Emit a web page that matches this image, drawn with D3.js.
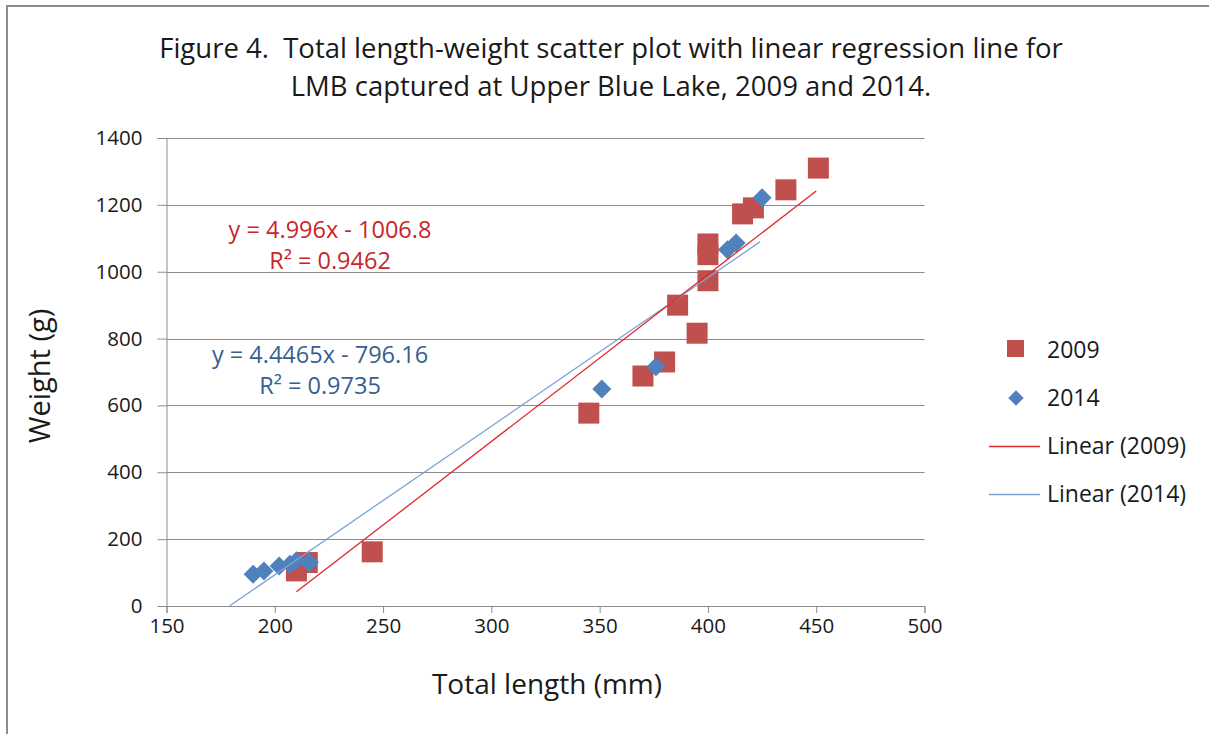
<!DOCTYPE html>
<html>
<head>
<meta charset="utf-8">
<script src="https://cdn.jsdelivr.net/npm/d3@7"></script>
<style>
  body { margin: 0; background: #fff; }
  svg text { font-family: "Open Sans", sans-serif; fill: #1a1a1a; }
</style>
</head>
<body>
<div id="container"></div>
<script>
// Data
const length2009 = [210, 215, 245, 345, 370, 380, 386, 395, 400, 400, 400, 416, 421, 436, 451];
const weight2009 = [105, 130, 162, 577, 688, 730, 900, 816, 973, 1051, 1083, 1173, 1191, 1245, 1310];
const length2014 = [190, 195, 202, 207, 210, 216, 351, 376, 409, 413, 425];
const weight2014 = [95, 105, 120, 125, 135, 130, 649, 716, 1066, 1086, 1221];

// Trendline coefficients and extents
const fit2009 = { slope: 4.996, intercept: -1006.8, from: 210, to: 450 };
const fit2014 = { slope: 4.4465, intercept: -796.16, from: 179.05, to: 424 };

const xTicks = [150, 200, 250, 300, 350, 400, 450, 500];
const yTicks = [0, 200, 400, 600, 800, 1000, 1200, 1400];

const W = 1209, H = 734;
const plot = { left: 166.5, right: 924.5, top: 138, bottom: 606 };

const x = d3.scaleLinear().domain([150, 500]).range([plot.left, plot.right]);
const y = d3.scaleLinear().domain([0, 1400]).range([plot.bottom, plot.top]);

const svg = d3.select("#container").append("svg")
    .attr("width", W)
    .attr("height", H);

// chart border (only top and left edges visible)
svg.append("path")
    .attr("d", `M7,${H} L7,6 L${W},6`)
    .attr("fill", "none")
    .attr("stroke", "#8c8c8c")
    .attr("stroke-width", 2);

// title
const title = svg.append("text")
    .attr("text-anchor", "middle")
    .attr("font-size", 27.5);
title.append("tspan").attr("x", 611).attr("y", 58)
    .text("Figure 4.\u00a0 Total length-weight scatter plot with linear regression line for");
title.append("tspan").attr("x", 611).attr("y", 96)
    .text("LMB captured at Upper Blue Lake, 2009 and 2014.");

// gridlines
svg.append("g")
    .selectAll("line")
    .data(yTicks.filter(d => d > 0))
    .join("line")
    .attr("x1", plot.left)
    .attr("x2", plot.right)
    .attr("y1", d => Math.round(y(d)) + 0.5)
    .attr("y2", d => Math.round(y(d)) + 0.5)
    .attr("stroke", "#8c8c8c");

// y axis
const yAxis = svg.append("g")
    .attr("transform", `translate(${plot.left},0)`)
    .call(d3.axisLeft(y).tickValues(yTicks).tickFormat(d3.format("d")).tickSize(9).tickPadding(15));
// x axis
const xAxis = svg.append("g")
    .attr("transform", `translate(0,${plot.bottom})`)
    .call(d3.axisBottom(x).tickValues(xTicks).tickFormat(d3.format("d")).tickSize(7).tickPadding(5));

[xAxis, yAxis].forEach(a => {
    a.selectAll("path.domain").attr("stroke", "#8c8c8c");
    a.selectAll(".tick line").attr("stroke", "#8c8c8c");
    a.selectAll(".tick text")
        .attr("font-family", "'Open Sans', sans-serif")
        .attr("font-size", 20.5)
        .attr("fill", "#1a1a1a");
});

// axis titles
svg.append("text")
    .attr("transform", `translate(50,376) rotate(-90)`)
    .attr("text-anchor", "middle")
    .attr("font-size", 29)
    .text("Weight (g)");
svg.append("text")
    .attr("x", 547)
    .attr("y", 694)
    .attr("text-anchor", "middle")
    .attr("font-size", 28)
    .text("Total length (mm)");

// trendlines
function trendLine(fit, color) {
    svg.append("line")
        .attr("x1", x(fit.from))
        .attr("y1", y(fit.slope * fit.from + fit.intercept))
        .attr("x2", x(fit.to))
        .attr("y2", y(fit.slope * fit.to + fit.intercept))
        .attr("stroke", color)
        .attr("stroke-width", 1.3);
}

const data2009 = length2009.map((d, i) => ({ len: d, wt: weight2009[i] }));
const data2014 = length2014.map((d, i) => ({ len: d, wt: weight2014[i] }));

// 2009 squares
svg.append("g")
    .selectAll("rect")
    .data(data2009)
    .join("rect")
    .attr("x", d => x(d.len) - 10.5)
    .attr("y", d => y(d.wt) - 10.5)
    .attr("width", 21)
    .attr("height", 21)
    .attr("fill", "#C0504D");

// 2014 diamonds
svg.append("g")
    .selectAll("path")
    .data(data2014)
    .join("path")
    .attr("d", d3.symbol().type(d3.symbolDiamond2).size(230))
    .attr("transform", d => `translate(${x(d.len)},${y(d.wt)})`)
    .attr("fill", "#4F81BD");

trendLine(fit2014, "#7DA2D6");
trendLine(fit2009, "#E0282C");

// trendline equations
function eqLabel(cx, cy, lines, color) {
    const t = svg.append("text")
        .attr("text-anchor", "middle")
        .attr("font-size", 23.5)
        .style("fill", color);
    lines.forEach((l, i) => t.append("tspan").attr("x", cx).attr("y", cy + i * 31).text(l));
}
eqLabel(330, 238, ["y = 4.996x - 1006.8", "R\u00b2 = 0.9462"], "#C8262B");
eqLabel(320, 363, ["y = 4.4465x - 796.16", "R\u00b2 = 0.9735"], "#365F91");

// legend
const legend = svg.append("g").attr("transform", "translate(989,0)");
legend.append("rect").attr("x", 18).attr("y", 340).attr("width", 17).attr("height", 17).attr("fill", "#C0504D");
legend.append("path")
    .attr("d", d3.symbol().type(d3.symbolDiamond2).size(150))
    .attr("transform", "translate(27,398)")
    .attr("fill", "#4F81BD");
legend.append("line").attr("x1", 0).attr("x2", 51).attr("y1", 446.5).attr("y2", 446.5).attr("stroke", "#E0282C").attr("stroke-width", 1.3);
legend.append("line").attr("x1", 0).attr("x2", 51).attr("y1", 494.5).attr("y2", 494.5).attr("stroke", "#7DA2D6").attr("stroke-width", 1.3);
const legendLabels = ["2009", "2014", "Linear (2009)", "Linear (2014)"];
legend.selectAll("text.lab")
    .data(legendLabels)
    .join("text")
    .attr("class", "lab")
    .attr("x", 58)
    .attr("y", (d, i) => 358 + i * 48)
    .attr("font-size", 23)
    .text(d => d);
</script>
</body>
</html>
